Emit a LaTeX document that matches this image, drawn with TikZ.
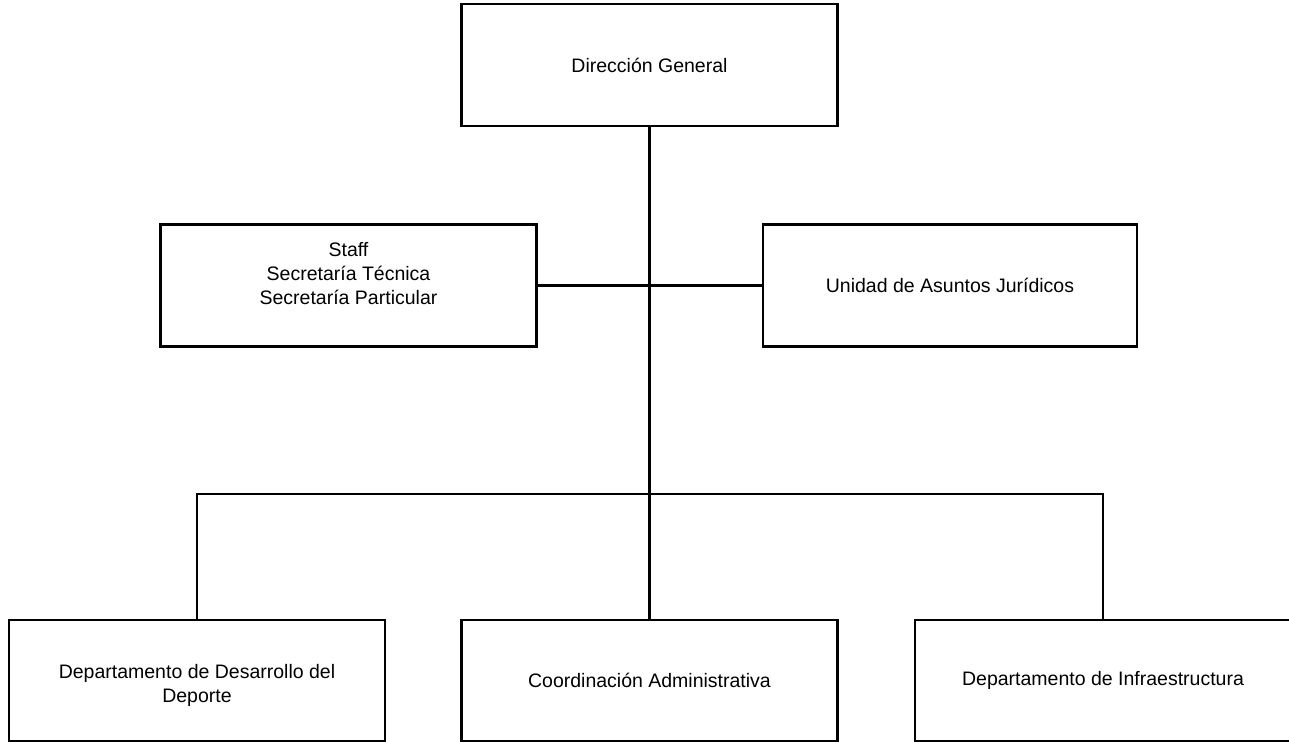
\documentclass[tikz,border=0pt]{standalone}
\usepackage{fontspec}
\setmainfont{Liberation Sans}
\begin{document}
\begin{tikzpicture}[x=0.5pt,y=-0.5pt,
        orgbox/.style={draw,line width=1.1pt,minimum width=188pt,minimum height=61pt,
            align=center,inner sep=2pt,font=\fontsize{9.75}{12}\selectfont},
        link/.style={line width=1.1pt}]
    \useasboundingbox (0,0) rectangle (1289,742);
    % top level
    \node [orgbox] (dir) at (649.5,65) {Dirección General};
    % staff level
    \node [orgbox] (staff) at (348.5,285.5) {Staff\\Secretaría Técnica\\Secretaría Particular\\\mbox{}};
    \node [orgbox,minimum width=187pt] (juridicos) at (950,285.5) {Unidad de Asuntos Jurídicos};
    % departments
    \node [orgbox,minimum height=60.5pt] (desarrollo) at (197,680.5) {\mbox{}\\Departamento de Desarrollo del\\Deporte};
    \node [orgbox,minimum height=60.5pt] (coord) at (649.5,680.5) {Coordinación Administrativa};
    \node [orgbox,minimum height=60.5pt] (infra) at (1103,680.5) {Departamento de Infraestructura};
    \coordinate (bus) at (649.5,494);
    \draw [link] (dir) -- (bus);
    \draw [link] (staff) -- (juridicos);
    \draw [link] (desarrollo.north) |- (bus) -| (infra.north);
    \draw [link] (bus) -- (coord);
\end{tikzpicture}
\end{document}
